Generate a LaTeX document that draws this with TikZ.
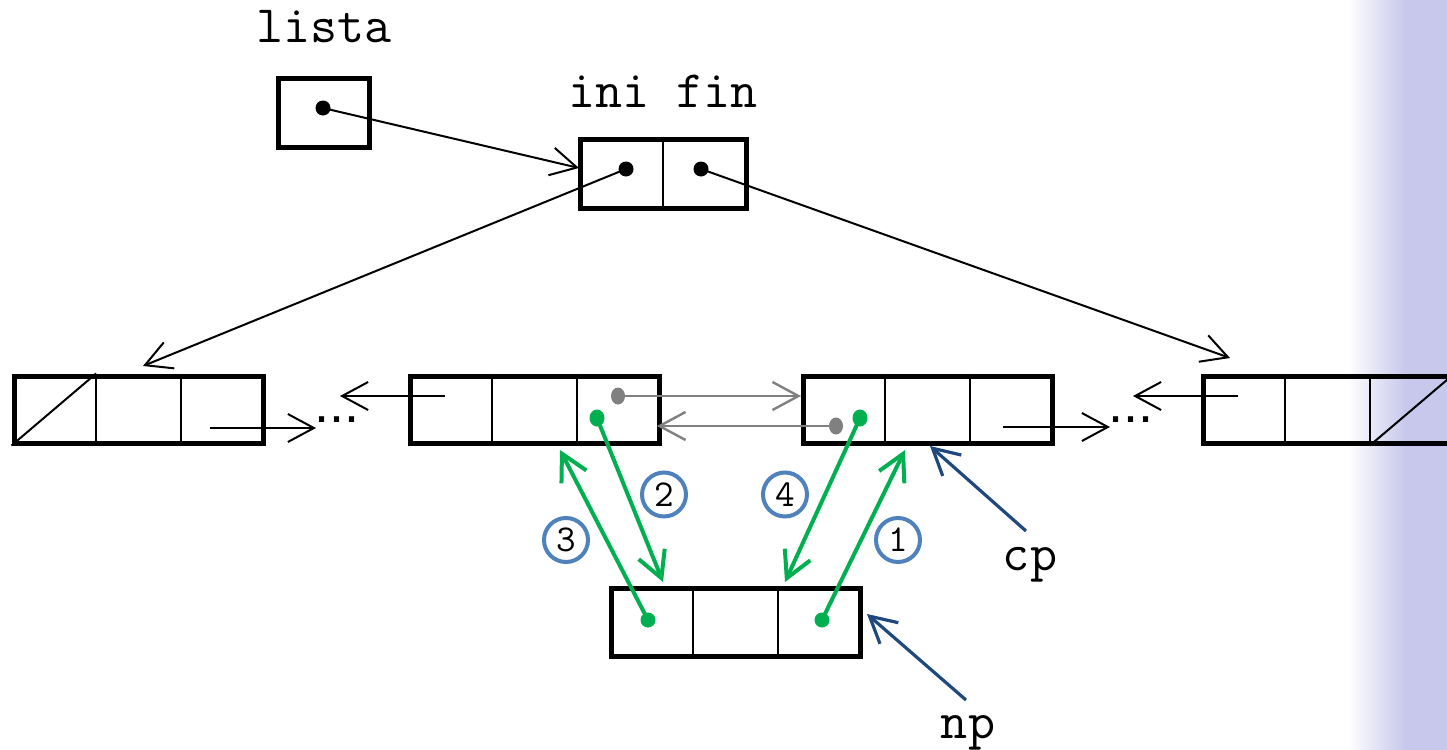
\documentclass[tikz,border=0pt]{standalone}
\usepackage{fontspec}
\newfontfamily\dotfont{Liberation Sans}
\usetikzlibrary{arrows.meta,calc}
\definecolor{grn}{RGB}{0,176,80}
\definecolor{cblue}{RGB}{79,129,189}
\definecolor{dblue}{RGB}{31,73,125}
\definecolor{lav}{RGB}{200,200,236}
\definecolor{gry}{RGB}{128,128,128}
\begin{document}
\begin{tikzpicture}[x=0.5pt,y=-0.5pt,
  box/.style={draw,line width=2.5pt,inner sep=0pt,minimum height=33.5pt},
  row/.style={box,minimum width=124.5pt},
  div/.style={line width=1pt},
  barb/.style={-{Straight Barb[length=13pt,width=14pt]}},
  conn/.style={barb,line width=1pt},
  gconn/.style={barb,line width=1.2pt,draw=gry},
  grconn/.style={barb,line width=2pt,draw=grn},
  bconn/.style={barb,line width=1.6pt,draw=dblue},
  lbl/.style={font=\ttfamily\fontsize{26.3}{26.3}\selectfont,anchor=base,inner sep=0pt},
  num/.style={circle,draw=cblue,line width=2pt,minimum size=22pt,inner sep=0pt,font=\ttfamily\fontsize{19}{19}\selectfont},
  dots/.style={font=\dotfont\fontsize{27}{27}\selectfont,inner sep=0pt,anchor=base west}
]
\useasboundingbox (0,0) rectangle (1447,750);
% background strip
\shade[left color=white,right color=lav] (1348,0) rectangle (1405,750);
\fill[lav] (1404,0) rectangle (1447,750);

% labels
\node[lbl] (tlista) at (324,42) {lista};
\node[lbl] (tinifin) at (663,107) {ini fin};
\node[lbl] (tcp) at (1030,570) {cp};
\node[lbl] (tnp) at (968,738) {np};

% lista box
\node[box,minimum width=45.5pt,minimum height=34.5pt] (L) at (323.5,112.5) {};
% ini/fin box
\node[box,minimum width=83pt,minimum height=34.5pt] (IF) at (663,173.5) {};
\draw[div] (IF.north) -- (IF.south);

% row boxes
\node[row] (A) at (138.5,409.5) {};
\node[row] (B) at (534.5,409.5) {};
\node[row] (C) at (927.5,409.5) {};
\node[row] (D) at (1327.5,409.5) {};
\node[row,minimum height=34pt] (E) at (735.5,622) {};
\foreach \n in {A,B,C,D,E}{
  \draw[div] ($(\n.north west)!1/3!(\n.north east)$) -- ($(\n.south west)!1/3!(\n.south east)$);
  \draw[div] ($(\n.north west)!2/3!(\n.north east)$) -- ($(\n.south west)!2/3!(\n.south east)$);
}
\draw[div] (A.south west) -- ($(A.north west)!1/3!(A.north east)$);
\draw[div] ($(D.south west)!2/3!(D.south east)$) -- (D.north east);

% dots
\coordinate (dl) at (323,108);
\coordinate (dini) at (626,169);
\coordinate (dfin) at (701,169);
\coordinate (gB) at (618,396);
\coordinate (gC) at (836,426);
\coordinate (grB) at (597,418);
\coordinate (grC) at (860,418);
\coordinate (grE1) at (648,620);
\coordinate (grE2) at (822,620);
\fill (dl) circle (7.5);
\fill (dini) circle (7.5);
\fill (dfin) circle (7.5);

% black connectors
\coordinate (tIF) at (579,168);
\coordinate (tA) at (143,366);
\coordinate (tD) at (1230,358);
\draw[conn] (dl) -- (tIF);
\draw[conn] (dini) -- (tA);
\draw[conn] (dfin) -- (tD);

% ellipses
\node[dots] (e1) at (314,422) {...};
\node[dots] (e2) at (1108,422) {...};
\coordinate (sA) at (210,428);
\coordinate (sC) at (1003,427);
\coordinate (sB) at (445,396);
\coordinate (sD) at (1238,396);
\coordinate (tAr) at (316,428);
\coordinate (tCr) at (1110,427);
\coordinate (tBl) at (340,396);
\coordinate (tDl) at (1133,396);
\draw[conn] (sA) -- (tAr);
\draw[conn] (sC) -- (tCr);
\draw[conn] (sB) -- (tBl);
\draw[conn] (sD) -- (tDl);

% gray connectors
\coordinate (tgC) at (801,396);
\coordinate (tgB) at (657,426);
\draw[gconn] (gB) -- (tgC);
\draw[gconn] (gC) -- (tgB);
\fill[gry] (gB) ellipse (7 and 8.5);
\fill[gry] (gC) ellipse (7 and 8.5);

% green connectors
\coordinate (t1) at (905,450);
\coordinate (t2) at (663,582);
\coordinate (t3) at (560,450);
\coordinate (t4) at (785,582);
\draw[grconn] (grE2) -- (t1);
\draw[grconn] (grB) -- (t2);
\draw[grconn] (grE1) -- (t3);
\draw[grconn] (grC) -- (t4);
\fill[grn] (grB) ellipse (7.5 and 8.5);
\fill[grn] (grC) ellipse (7.5 and 8.5);
\fill[grn] (grE1) circle (7.5);
\fill[grn] (grE2) circle (7.5);

% step numbers
\node[num] (n2) at (664,494.5) {2};
\node[num] (n4) at (785,494.5) {4};
\node[num] (n3) at (566,540) {3};
\node[num] (n1) at (898,540) {1};

% pointers cp / np
\coordinate (scp) at (1026,531);
\coordinate (tcpa) at (930,446);
\coordinate (snp) at (966,700);
\coordinate (tnpa) at (867,614);
\draw[bconn] (scp) -- (tcpa);
\draw[bconn] (snp) -- (tnpa);
\end{tikzpicture}
\end{document}
